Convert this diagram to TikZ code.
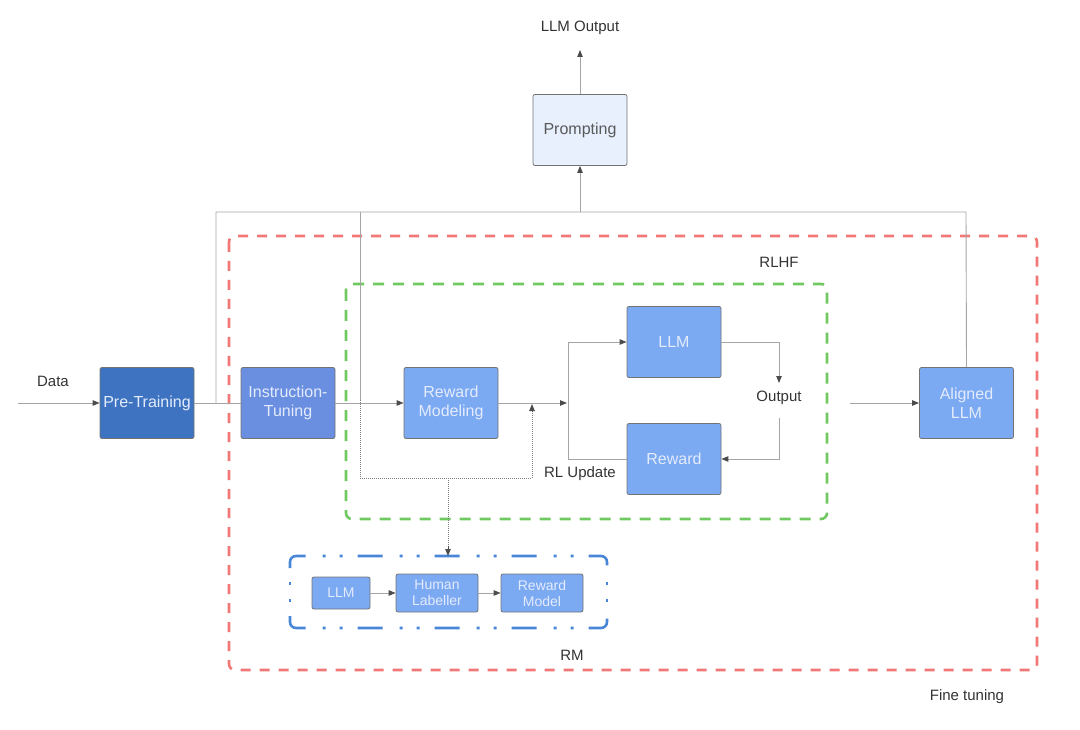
\documentclass[tikz,border=0pt]{standalone}
\usepackage{fontspec}
\setmainfont{Liberation Sans}
\usetikzlibrary{arrows.meta,positioning}

\definecolor{darkblue}{RGB}{62,115,194}
\definecolor{midblue}{RGB}{106,143,224}
\definecolor{lightblue}{RGB}{123,169,242}
\definecolor{paleblue}{RGB}{232,240,254}
\definecolor{linegray}{RGB}{165,165,165}
\definecolor{redframe}{RGB}{242,120,120}
\definecolor{greenframe}{RGB}{112,200,96}
\definecolor{blueframe}{RGB}{74,134,216}
\definecolor{boxtext}{RGB}{228,236,252}

\tikzset{
  stage/.style={draw=black!55, line width=0.8pt, rounded corners=2pt, minimum width=94pt,
    minimum height=71pt, text width=94pt, align=center, inner sep=0pt,
    font=\fontsize{16}{19}\selectfont, text=boxtext},
  smallstage/.style={stage, font=\fontsize{14}{16}\selectfont},
  label/.style={font=\fontsize{15}{17}\selectfont, text=black!80, inner sep=0pt},
  wire/.style={draw=linegray, line width=0.9pt},
  tip/.style={-{Triangle[length=7pt,width=5.5pt,color=black!70]}},
  link/.style={wire, tip},
  dotwire/.style={draw=black!50, line width=1pt, densely dotted},
  frame/.style={line width=2.6pt, rounded corners=6pt},
  rmdash/.style={frame, blueframe, dash pattern=on 25pt off 17pt on 3pt off 14pt on 3pt off 15pt},
  rmdots/.style={frame, blueframe, dash pattern=on 3pt off 14pt on 3pt off 100pt}
}

\begin{document}
\begin{tikzpicture}[x=1pt,y=1pt,yscale=-1]
\useasboundingbox (0,0) rectangle (1080,730);

% frames
\draw [frame, redframe, dash pattern=on 10pt off 9pt] (229,236) rectangle (1037,670);
\draw [frame, greenframe, dash pattern=on 11pt off 9pt] (346,284) rectangle (827,519);
\draw [rmdash] (290,568) -- (290,556) -- (607,556) -- (607,568);
\draw [rmdash] (290,616) -- (290,628) -- (607,628) -- (607,616);
\draw [rmdots] (290,582) -- (290,602);
\draw [rmdots] (607,582) -- (607,602);

% main stages
\node [stage, fill=darkblue] (pre) at (147,403) {Pre-Training};
\node [stage, fill=midblue] (inst) at (288,403) {Instruction-\\Tuning};
\node [stage, fill=lightblue] (rwm) at (451,403) {Reward\\Modeling};
\node [stage, fill=lightblue] (llm) at (674,342) {LLM};
\node [stage, fill=lightblue] (rew) at (674,459) {Reward};
\node [stage, fill=lightblue] (aligned) at (966.5,403) {Aligned\\LLM};
\node [stage, fill=paleblue, text=black!65] (prompt) at (580,130) {Prompting};

% RM stages
\node [smallstage, fill=lightblue, minimum width=58pt, text width=58pt, minimum height=32pt] (rmllm) at (341,593) {LLM};
\node [smallstage, fill=lightblue, minimum width=82pt, text width=82pt, minimum height=38pt] (human) at (437,593) {Human\\Labeller};
\node [smallstage, fill=lightblue, minimum width=82pt, text width=82pt, minimum height=38pt] (rmodel) at (542,593) {Reward\\Model};

% texts
\node [label] (data) at (53,381) {Data};
\node [label] (llmout) at (580,28) {LLM Output};
\node [label] (output) at (779,398) {Output};
\node [label] (rlupd) at (580,474) {RL Update};
\node [label] (rlhf) at (779,262) {RLHF};
\node [label] (rm) at (572,655) {RM};
\node [label] (fine) at (967,697) {Fine tuning};

% helper points
\coordinate (datain) at (18,403);
\coordinate (tap) at (216,403);
\coordinate (split) at (567,403);
\coordinate (fork) at (532,404);
\coordinate (alignin) at (850,403);
\coordinate (llmouttip) at (580,50);
\coordinate (outtop) at (779,383);
\coordinate (outbot) at (779,418);
\coordinate (rmtop) at (448,556);

% connectors
\draw [link] (datain) -- (pre.west);
\draw [wire] (pre.east) -- (inst.west);
\draw [wire] (tap) -- (216,212) -- (966,212) -- (aligned.north);
\draw [link] (580,212) -- (prompt.south);
\draw [link] (prompt.north) -- (llmouttip);
\draw [wire] (360,212) -- (360,400);
\draw [link] (inst.east) -- (rwm.west);
\draw [link] (rwm.east) -- (split);
\draw [wire] (rew.west) -| (568,342);
\draw [link] (568,342) -- (llm.west);
\draw [link] (llm.east) -| (outtop);
\draw [link] (outbot) |- (rew.east);
\draw [link] (alignin) -- (aligned.west);

% human feedback loop
\draw [dotwire] (360,400) -- (360,478) -- (532,478) -- (532,412);
\draw [tip, black!70, line width=0.9pt] (532,412) -- (fork);
\draw [dotwire] (448,478) -- (448,548);
\draw [tip, black!70, line width=0.9pt] (448,546) -- (rmtop);
\draw [link] (rmllm.east) -- (human.west);
\draw [link] (human.east) -- (rmodel.west);

\end{tikzpicture}
\end{document}
